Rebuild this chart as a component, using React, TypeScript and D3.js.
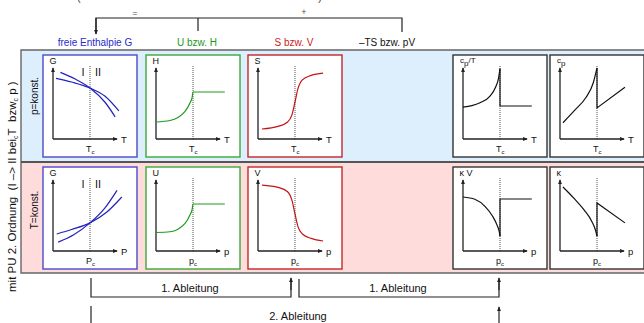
import * as d3 from "d3";

const W = 644;
const H = 323;
const FONT = "Liberation Sans, Arial, Helvetica, sans-serif";

// curve points: x along the axis (T_c / p_c sits at 0.5), y = value, both 0..1
const gTempA = [[0.1, 0.9], [0.3, 0.81], [0.5, 0.69], [0.7, 0.5], [0.84, 0.3]];
const gTempB = [[0.04, 0.82], [0.25, 0.77], [0.5, 0.69], [0.7, 0.58], [0.89, 0.38]];
const hTemp = [[0, 0.23], [0.19, 0.25], [0.39, 0.37], [0.46, 0.49], [0.49, 0.57], [0.5, 0.635], [0.93, 0.635]];
const sTemp = [[0.054, 0.135], [0.27, 0.17], [0.4, 0.23], [0.46, 0.33], [0.5, 0.5], [0.54, 0.68], [0.6, 0.8], [0.72, 0.86], [0.88, 0.89]];
const cpTCurve = [[0, 0.43], [0.12, 0.45], [0.23, 0.49], [0.365, 0.58], [0.44, 0.7], [0.48, 0.82], [0.5, 0.95]];
const cpTJump = [[0.5, 0.95], [0.5, 0.446], [0.93, 0.446]];
const cpCurve = [[0.04, 0.22], [0.2, 0.39], [0.35, 0.56], [0.45, 0.76], [0.5, 0.96]];
const cpJump = [[0.5, 0.96], [0.5, 0.42], [0.878, 0.7]];

const gPresA = [[0.05, 0.23], [0.25, 0.29], [0.5, 0.38], [0.72, 0.52], [0.93, 0.73]];
const gPresB = [[0.07, 0.12], [0.28, 0.22], [0.5, 0.38], [0.7, 0.58], [0.865, 0.82]];
const uPres = [[0, 0.25], [0.19, 0.26], [0.39, 0.37], [0.46, 0.49], [0.49, 0.57], [0.5, 0.635], [0.93, 0.635]];
const vPres = [[0.054, 0.89], [0.27, 0.86], [0.4, 0.8], [0.46, 0.68], [0.5, 0.5], [0.54, 0.33], [0.6, 0.23], [0.72, 0.17], [0.88, 0.135]];
const kvCurve = [[0, 0.73], [0.16, 0.7], [0.3, 0.6], [0.4, 0.47], [0.46, 0.35], [0.49, 0.26], [0.5, 0.2]];
const kvJump = [[0.5, 0.2], [0.5, 0.703], [0.93, 0.703]];
const kCurve = [[0.04, 0.865], [0.2, 0.7], [0.33, 0.55], [0.43, 0.4], [0.48, 0.28], [0.5, 0.2]];
const kJump = [[0.5, 0.2], [0.5, 0.65], [0.878, 0.38]];

const headers = ["freie Enthalpie G", "U bzw. H", "S bzw. V", "\u2013TS bzw. pV"];
const headerColors = ["#2a2acc", "#1a991a", "#cc1a1a", "#111"];
const rowLabels = ["p=konst.", "T=konst."];

const BLUE = "#2222c0";
const GREEN = "#1f9a1f";
const RED = "#c41414";
const BLACK = "#111";

const colX = [43, 146, 248, 453, 550];
const rowY = [55, 167];
const headerX = [95, 197, 294, 387];
const boxW = 94;
const boxH = 102;

type Panel = {
  col: number;
  row: number;
  frame: string;
  color: string;
  yLabel: string[]; // [main, sub, rest]
  xLabel: string;
  smooth: number[][][];
  jumps?: number[][][];
  phases?: boolean;
};

const panels: Panel[] = [
  { col: 0, row: 0, frame: "#4a4ac8", color: BLUE, yLabel: ["G"], xLabel: "T", smooth: [gTempA, gTempB], phases: true },
  { col: 1, row: 0, frame: "#3aaa3a", color: GREEN, yLabel: ["H"], xLabel: "T", smooth: [hTemp] },
  { col: 2, row: 0, frame: "#c02828", color: RED, yLabel: ["S"], xLabel: "T", smooth: [sTemp] },
  { col: 3, row: 0, frame: "#333", color: BLACK, yLabel: ["c", "p", "/T"], xLabel: "T", smooth: [cpTCurve], jumps: [cpTJump] },
  { col: 4, row: 0, frame: "#333", color: BLACK, yLabel: ["c", "p"], xLabel: "T", smooth: [cpCurve], jumps: [cpJump] },
  { col: 0, row: 1, frame: "#4a4ac8", color: BLUE, yLabel: ["G"], xLabel: "P", smooth: [gPresA, gPresB], phases: true },
  { col: 1, row: 1, frame: "#3aaa3a", color: GREEN, yLabel: ["U"], xLabel: "p", smooth: [uPres] },
  { col: 2, row: 1, frame: "#c02828", color: RED, yLabel: ["V"], xLabel: "p", smooth: [vPres] },
  { col: 3, row: 1, frame: "#333", color: BLACK, yLabel: ["\u03ba V"], xLabel: "p", smooth: [kvCurve], jumps: [kvJump] },
  { col: 4, row: 1, frame: "#333", color: BLACK, yLabel: ["\u03ba"], xLabel: "p", smooth: [kCurve], jumps: [kJump] },
];

function SmallPlot({ p }: { p: Panel }) {
  const bx = colX[p.col];
  const by = rowY[p.row];
  const x = d3.scaleLinear().domain([0, 1]).range([bx + 10, bx + 84]);
  const y = d3.scaleLinear().domain([0, 1]).range([by + 84, by + 10]);
  const smoothLine = d3.line<number[]>().x(d => x(d[0])).y(d => y(d[1])).curve(d3.curveMonotoneX);
  const straight = d3.line<number[]>().x(d => x(d[0])).y(d => y(d[1]));
  const sub = p.row === 0 ? "T" : p.xLabel;
  return (
    <g>
      <rect x={bx} y={by} width={boxW} height={boxH} fill="#fff" stroke={p.frame} strokeWidth={1.4} />
      {/* dotted line at the transition */}
      <line x1={x(0.5)} x2={x(0.5)} y1={by + 11} y2={y(0)} stroke="#555" strokeWidth={1} strokeDasharray="1,1" />
      {/* axes */}
      <line x1={x(0)} x2={x(0)} y1={y(0)} y2={by + 13} stroke="#222" strokeWidth={1.3} markerEnd="url(#arr)" />
      <line x1={x(0)} x2={bx + 74} y1={y(0)} y2={y(0)} stroke="#222" strokeWidth={1.3} markerEnd="url(#arr)" />
      <text x={x(0) - 2} y={by + 9} fontSize={9} textAnchor="start" fill="#111" style={{ fontFamily: FONT }}>
        {p.yLabel.length === 1 ? (
          <tspan x={x(0) - 3.5}>{p.yLabel[0]}</tspan>
        ) : (
          <>
            <tspan x={x(0) - 3} dy={-1} fontSize={8}>{p.yLabel[0]}</tspan>
            <tspan dy={3} fontSize={8}>{p.yLabel[1]}</tspan>
            {p.yLabel[2] && <tspan dy={-3} fontSize={8}>{p.yLabel[2]}</tspan>}
          </>
        )}
      </text>
      <text x={bx + 78} y={y(0) + 3.5} fontSize={9.5} fill="#111" style={{ fontFamily: FONT }}>{p.xLabel}</text>
      <text x={x(0.5) - 4} y={by + 97} fontSize={9} fill="#111" style={{ fontFamily: FONT }}>
        {sub}
        <tspan fontSize={6} dy={2}>c</tspan>
      </text>
      {p.phases && (
        <g fontSize={11} fill="#111" textAnchor="middle" style={{ fontFamily: FONT }}>
          <text x={bx + 40} y={by + 21}>I</text>
          <text x={bx + 55} y={by + 21}>II</text>
        </g>
      )}
      {p.smooth.map((c, i) => (
        <path key={"s" + i} d={smoothLine(c) ?? ""} fill="none" stroke={p.color} strokeWidth={1.2} />
      ))}
      {(p.jumps ?? []).map((c, i) => (
        <path key={"j" + i} d={straight(c) ?? ""} fill="none" stroke={p.color} strokeWidth={1.2} />
      ))}
    </g>
  );
}

export default function App() {
  const textStyle = { fontFamily: FONT };
  return (
    <svg width={W} height={H} style={{ position: "absolute", left: 0, top: 0, background: "#fff" }}>
      <defs>
        <marker id="arr" viewBox="0 0 6 6" refX={5} refY={3} markerWidth={5} markerHeight={5} orient="auto" markerUnits="userSpaceOnUse">
          <path d="M0,0.6 L6,3 L0,5.4 z" fill="#222" />
        </marker>
      </defs>

      {/* title fragments, cut off at the top edge like in the source */}
      <text x={79} y={1} fontSize={10} fill="#333" textAnchor="middle" style={textStyle}>(</text>
      <text x={320} y={1} fontSize={10} fill="#333" textAnchor="middle" style={textStyle}>)</text>

      {/* top bracket */}
      <path d="M96,32 V18 H402 V32 M198,18 V31" fill="none" stroke="#222" strokeWidth={1.2} />
      <line x1={96} x2={96} y1={18} y2={34} stroke="#222" strokeWidth={1.2} markerEnd="url(#arr)" />
      <text x={135} y={16} fontSize={9} fill="#555" textAnchor="middle" style={textStyle}>=</text>
      <text x={304} y={15} fontSize={9} fill="#555" textAnchor="middle" style={textStyle}>+</text>

      {headers.map((h, i) => (
        <text key={h} x={headerX[i]} y={46} fontSize={10} textAnchor="middle" fill={headerColors[i]} style={textStyle}>{h}</text>
      ))}

      {/* row backgrounds */}
      <rect x={21} y={50} width={W - 21} height={112} fill="#ddeefc" />
      <rect x={21} y={162} width={W - 21} height={111} fill="#ffdcdc" />
      <path d={`M${W},50 H21 V273 H${W}`} fill="none" stroke="#666" strokeWidth={1.4} />
      <line x1={21} x2={W} y1={162} y2={162} stroke="#555" strokeWidth={2} />

      {rowLabels.map((r, i) => (
        <text key={r} transform={`translate(38,${[96, 210][i]}) rotate(-90)`} fontSize={10} textAnchor="middle" fill="#111" style={textStyle}>{r}</text>
      ))}

      <text transform="translate(16,292) rotate(-90)" fontSize={11.5} fill="#111" style={textStyle}>
        mit PU 2. Ordnung{"\u00a0\u00a0"}(I {"\u2013"}&gt; II bei<tspan fontSize={7} dy={2}>c</tspan>
        <tspan dy={-2}>T{"\u00a0\u00a0"}bzw</tspan>
        <tspan fontSize={7} dy={2}>c</tspan>
        <tspan dy={-2}> p )</tspan>
      </text>

      {panels.map((p, i) => (
        <SmallPlot key={i} p={p} />
      ))}

      {/* bottom brackets */}
      <path d="M91,278 V297 H291 V281" fill="none" stroke="#222" strokeWidth={1.2} />
      <line x1={291} x2={291} y1={290} y2={278} stroke="#222" strokeWidth={1.2} markerEnd="url(#arr)" />
      <path d="M299,279 V297 H499 V281" fill="none" stroke="#222" strokeWidth={1.2} />
      <line x1={499} x2={499} y1={290} y2={278} stroke="#222" strokeWidth={1.2} markerEnd="url(#arr)" />
      <text x={190} y={292} fontSize={11} textAnchor="middle" fill="#111" style={textStyle}>1. Ableitung</text>
      <text x={398} y={292} fontSize={11} textAnchor="middle" fill="#111" style={textStyle}>1. Ableitung</text>

      <line x1={91} x2={91} y1={306} y2={323} stroke="#222" strokeWidth={1.2} />
      <line x1={499} x2={499} y1={323} y2={307} stroke="#222" strokeWidth={1.2} markerEnd="url(#arr)" />
      <text x={298} y={320} fontSize={11} textAnchor="middle" fill="#111" style={textStyle}>2. Ableitung</text>
    </svg>
  );
}
